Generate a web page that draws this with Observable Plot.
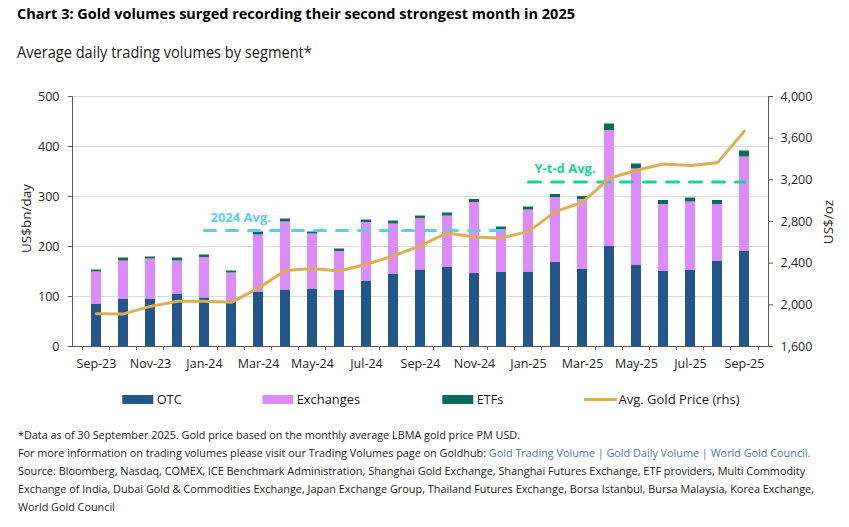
<!DOCTYPE html>
<html>
<head>
<meta charset="utf-8">
<script src="https://cdn.jsdelivr.net/npm/d3@7"></script>
<script src="https://cdn.jsdelivr.net/npm/@observablehq/plot@0.6"></script>
<style>
  body { margin:0; width:849px; height:527px; position:relative; background:#fff; overflow:hidden; font-family:'Open Sans', sans-serif; }
  #chart { position:absolute; left:0; top:80px; }
  #ann { position:absolute; left:0; top:0; pointer-events:none; }
</style>
</head>
<body>
<div id="chart"></div>
<svg id="ann" width="849" height="527"></svg>
<script>
// ---------- data ----------
const months = ["Sep-23","Oct-23","Nov-23","Dec-23","Jan-24","Feb-24","Mar-24","Apr-24","May-24","Jun-24","Jul-24","Aug-24","Sep-24","Oct-24","Nov-24","Dec-24","Jan-25","Feb-25","Mar-25","Apr-25","May-25","Jun-25","Jul-25","Aug-25","Sep-25"];
const otc       = [85,95,95,105,97,88,109,113,115,112,131,145,153,159,146,148,149,168,154,200,163,150,152,170,190];
const exchanges = [64,76,80,66,81,59,114,136,110,78,117,100,103,102,142,86,124,130,140,232,192,134,137,114,189];
const etfs      = [4,6,4,6,5,4,6,6,4,5,5,6,5,6,6,5,6,6,6,13,10,8,8,8,12];
const goldPrice = [1915,1913,1985,2034,2034,2024,2162,2329,2348,2325,2390,2470,2568,2690,2652,2640,2705,2895,2985,3215,3292,3352,3338,3365,3668];
const segments  = ["OTC","Exchanges","ETFs"];
const segColors = ["#235789","#dc8cf8","#0b6b5a"];
const goldColor = "#dcae52";
const leftTicks  = [0,100,200,300,400,500];
const rightTicks = [1600,2000,2400,2800,3200,3600,4000];
const avg2024 = {label:"2024 Avg.", value:232, from:"Jan-24", to:"Dec-24"};
const avgYtd  = {label:"Y-t-d Avg.", value:329, from:"Jan-25", to:"Sep-25"};
const legendLabels = ["OTC","Exchanges","ETFs","Avg. Gold Price (rhs)"];
const titleText = "Chart 3: Gold volumes surged recording their second strongest month in 2025";
const subtitleText = "Average daily trading volumes by segment*";
const yLeftLabel = "US$bn/day";
const yRightLabel = "US$/oz";
const notes = [
  "*Data as of 30 September 2025. Gold price based on the monthly average LBMA gold price PM USD.",
  "For more information on trading volumes please visit our Trading Volumes page on Goldhub: ",
  "Gold Trading Volume | Gold Daily Volume | World Gold Council.",
  "Source: Bloomberg, Nasdaq, COMEX, ICE Benchmark Administration, Shanghai Gold Exchange, Shanghai Futures Exchange, ETF providers, Multi Commodity",
  "Exchange of India, Dubai Gold & Commodities Exchange, Japan Exchange Group, Thailand Futures Exchange, Borsa Istanbul, Bursa Malaysia, Korea Exchange,",
  "World Gold Council"
];

// ---------- derived tables ----------
const segValues = [otc, exchanges, etfs];
const long = [];
months.forEach((m,i) => segments.forEach((s,j) => long.push({month:m, segment:s, value:segValues[j][i]})));
const goldRows = months.map((m,i) => ({month:m, price:goldPrice[i]}));
const toLeft = p => (p - 1600) / 2400 * 500;
const avgRows = a => [{month:a.from, v:a.value}, {month:a.to, v:a.value}];

// ---------- plot ----------
const W = 849, H = 290, mL = 72, mR = 81, mT = 16, mB = 24;
const step = (W - mL - mR) / months.length;
const axisColor = "#595959";

const chart = Plot.plot({
  width: W, height: H,
  marginTop: mT, marginBottom: mB, marginLeft: mL, marginRight: mR,
  style: {fontFamily: "'Open Sans', sans-serif", fontSize: "12.5px", color: "#262626", background: "transparent", overflow: "visible"},
  x: {domain: months, paddingInner: 0.64, paddingOuter: 0.32, label: null},
  y: {domain: [0, 500], label: null},
  color: {domain: segments, range: segColors},
  marks: [
    Plot.gridY(leftTicks, {stroke: "#d9d9d9", strokeOpacity: 1}),
    Plot.barY(long, {x: "month", y: "value", fill: "segment", order: segments}),
    Plot.line(avgRows(avg2024), {x: "month", y: "v", stroke: "#64c8f6", strokeWidth: 3, strokeDasharray: "11,11"}),
    Plot.line(avgRows(avgYtd), {x: "month", y: "v", stroke: "#17d29a", strokeWidth: 3, strokeDasharray: "12,11"}),
    Plot.text([avg2024], {x: d => d.from, y: 257, text: "label", textAnchor: "start", dx: 6, fill: "#64c8f6", fontWeight: "bold", fontSize: 13}),
    Plot.text([avgYtd], {x: d => d.from, y: 355, text: "label", textAnchor: "start", dx: 6, fill: "#17d29a", fontWeight: "bold", fontSize: 13}),
    Plot.line(goldRows, {x: "month", y: d => toLeft(d.price), stroke: goldColor, strokeWidth: 3}),
    Plot.frame({anchor: "left", stroke: axisColor}),
    Plot.frame({anchor: "right", stroke: axisColor}),
    Plot.frame({anchor: "bottom", stroke: axisColor}),
    Plot.axisY(leftTicks, {anchor: "left", tickSize: 4, tickPadding: 9, label: null, stroke: axisColor}),
    Plot.axisY(rightTicks, {anchor: "right", y: toLeft, tickSize: 4, tickPadding: 8, tickFormat: d3.format(","), label: null, stroke: axisColor}),
    Plot.axisX(months, {anchor: "bottom", tickSize: 4, tickFormat: () => "", dx: -step/2, label: null, stroke: axisColor}),
    Plot.axisX([months[months.length-1]], {anchor: "bottom", tickSize: 4, tickFormat: () => "", dx: step/2, label: null, stroke: axisColor}),
    Plot.axisX(months.filter((d,i) => i % 2 === 0), {anchor: "bottom", tickSize: 0, tickPadding: 13, label: null})
  ]
});
document.getElementById("chart").appendChild(chart);

// ---------- annotations: title, subtitle, axis titles, legend, notes ----------
const ann = d3.select("#ann");
// text placed at (x, y); if len is given it is squeezed horizontally to that width with a scale transform
const txt = (x, y, parts, o = {}) => {
  const t = ann.append("text").attr("x", 0).attr("y", 0)
    .attr("font-family", "'Open Sans', sans-serif")
    .attr("font-size", o.size || 12)
    .attr("fill", o.fill || "#000");
  (Array.isArray(parts) ? parts : [[parts, null]]).forEach(([s, f]) => {
    const sp = t.append("tspan").text(s);
    if (f) sp.attr("fill", f);
  });
  if (o.weight) t.attr("font-weight", o.weight);
  if (o.rotate) {
    t.attr("transform", `translate(${x},${y}) rotate(-90)`).attr("text-anchor", "middle").attr("dominant-baseline", "central");
  } else if (o.len) {
    const nat = t.node().getComputedTextLength();
    const k = nat > 0 ? o.len / nat : 1;
    t.attr("transform", `translate(${x},${y}) scale(${k},1)`);
  } else {
    t.attr("transform", `translate(${x},${y})`);
  }
  return t;
};
txt(17, 18.5, titleText, {size: 14, weight: "bold", len: 558});
txt(17, 57.5, subtitleText, {size: 15.5, fill: "#1a1a1a", len: 295});
txt(26, 218.5, yLeftLabel, {size: 13.5, fill: "#262626", rotate: true});
txt(828, 222, yRightLabel, {size: 13.5, fill: "#262626", rotate: true});

// legend
const legX = [122.3, 262.3, 442.3, 584];
const legTextLen = [25, 63.4, 26.7, 121.3];
legendLabels.forEach((lab, i) => {
  if (i < 3) {
    ann.append("rect").attr("x", legX[i]).attr("y", 395).attr("width", 31).attr("height", 9).attr("fill", segColors[i]);
  } else {
    ann.append("line").attr("x1", legX[i]).attr("x2", legX[i] + 33).attr("y1", 399.5).attr("y2", 399.5).attr("stroke", goldColor).attr("stroke-width", 3);
  }
  txt(legX[i] + 34.4, 404, lab, {size: 13, fill: "#1a1a1a", len: legTextLen[i]});
});

// notes
const noteFill = "#1a1a1a", linkFill = "#4a76a3";
txt(18, 439, notes[0], {size: 11.5, fill: noteFill, len: 503});
txt(18, 457, [[notes[1], null], [notes[2], linkFill]], {size: 11.5, fill: noteFill, len: 794});
txt(18, 475, notes[3], {size: 11.5, fill: noteFill, len: 788});
txt(18, 493, notes[4], {size: 11.5, fill: noteFill, len: 797});
txt(18, 511, notes[5], {size: 11.5, fill: noteFill, len: 97});
</script>
</body>
</html>
